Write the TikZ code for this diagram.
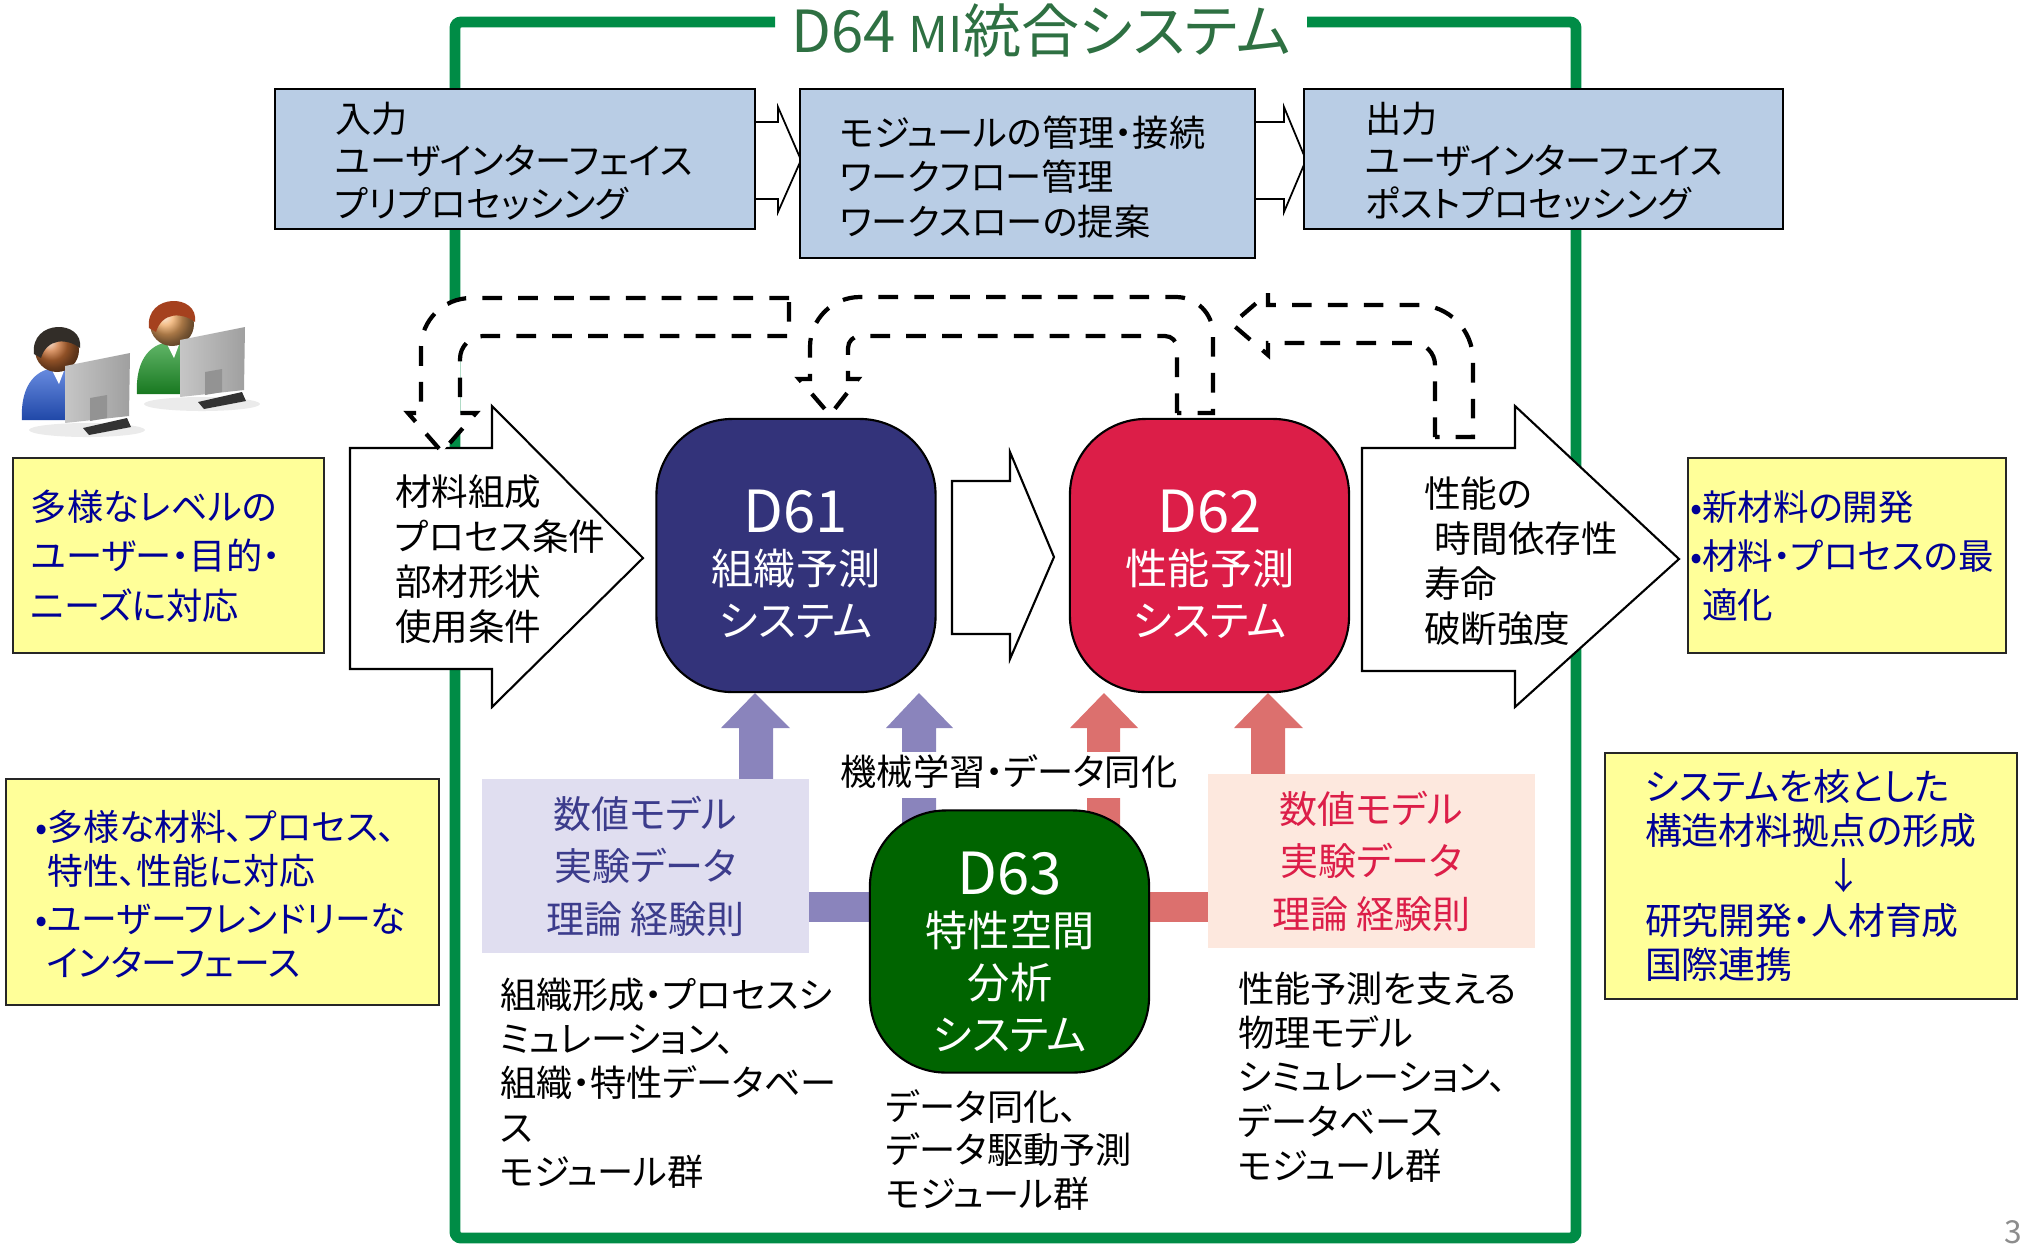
\documentclass[tikz,border=0pt]{standalone}
\usepackage{fontspec}
\setmainfont{Noto Sans CJK JP}[RawFeature=+palt]
\usetikzlibrary{backgrounds}

% Colours
\definecolor{framegreen}{RGB}{0,140,70}
\definecolor{titlegreen}{RGB}{46,112,66}
\definecolor{flowblue}{RGB}{185,205,229}
\definecolor{noteyellow}{RGB}{255,255,153}
\definecolor{noteblue}{RGB}{0,0,150}
\definecolor{mpblue}{RGB}{51,51,122}
\definecolor{mpred}{RGB}{220,30,72}
\definecolor{mpgreen}{RGB}{0,100,0}
\definecolor{lilac}{RGB}{138,132,188}
\definecolor{lilacbg}{RGB}{224,222,240}
\definecolor{lilactext}{RGB}{60,60,140}
\definecolor{salmon}{RGB}{220,112,110}
\definecolor{salmonbg}{RGB}{253,232,222}
\definecolor{manshirt}{RGB}{40,90,210}
\definecolor{manhair}{RGB}{50,45,40}
\definecolor{manskin}{RGB}{205,115,55}
\definecolor{womanshirt}{RGB}{30,150,40}
\definecolor{womanhair}{RGB}{165,65,30}
\definecolor{womanskin}{RGB}{240,170,100}

% one user behind a screen: #1 shift, #2 shirt, #3 hair, #4 face
\newcommand{\deskuser}[4]{%
  \begin{scope}[shift={#1}]
    \fill[black!8] (30,80) ellipse (58 and 7);
    \shade[top color=#2!70!white, bottom color=#2!80!black]
      (-35,70) .. controls (-37,34) and (-20,18) .. (0,18)
      .. controls (18,18) and (26,30) .. (26,46) -- (26,70) -- cycle;
    \fill[white] (-6,18) -- (8,18) -- (2,34) -- cycle;
    \shade[ball color=#4] (0,0) circle (22);
    \fill[#3] (-23,4) .. controls (-27,-31) and (27,-31) .. (23,-2)
      .. controls (10,-12) and (-10,-12) .. (-16,8) -- cycle;
    \shade[left color=gray!45, right color=gray!75]
      (8,16) -- (73,3) -- (72,66) -- (8,73) -- cycle;
    \fill[gray!85] (33,48) -- (50,45) -- (50,68) -- (33,71) -- cycle;
    \fill[gray!40!black] (26,78) -- (70,68) -- (74,77) -- (32,85) -- cycle;
  \end{scope}}

\begin{document}
\begin{tikzpicture}[
		x=0.01cm, y=-0.01cm,
		inner sep=0pt, outer sep=0pt,
		frameline/.style={line width=3.1pt, draw=framegreen, rounded corners=0.06cm},
		flowbox/.style={draw=black, line width=0.7pt, fill=flowblue},
		notebox/.style={draw=black!85, line width=0.7pt, fill=noteyellow},
		sysbox/.style={draw=black, line width=0.6pt, fill=#1,
			rounded corners=0.76cm, minimum width=2.79cm},
		hollow/.style={draw=black, line width=0.6pt, fill=white},
		loopback/.style={draw=black, line width=1.2pt,
			dash pattern=on 5.6pt off 4.6pt, fill=white},
		bodytext/.style={align=left, anchor=west,
			font=\fontsize{10.3}{12.6}\selectfont},
		notetext/.style={bodytext, text=noteblue},
		systext/.style={align=center, text=white,
			font=\fontsize{12}{14.8}\selectfont},
		modeltext/.style={align=center, font=\fontsize{10.8}{14.9}\selectfont},
	]
		\useasboundingbox (0,0) rectangle (2026,1244);

		% Frame of the integrated system
		\draw[frameline] (775,22) -| (455,1238) -| (1576,22) -- (1307,22);
		\node[text=titlegreen, font=\fontsize{16.5}{18}\selectfont] (title)
			at (1041,31) {D64 {\fontsize{14}{15}\selectfont MI}統合システム};

		% Workflow row
		\filldraw[hollow, line width=0.5pt] (750,122) -- (778,122) -- (778,107)
			-- (801,160) -- (778,212) -- (778,199) -- (750,199);
		\filldraw[hollow, line width=0.5pt] (1250,122) -- (1284,122) -- (1284,107)
			-- (1306,160) -- (1284,212) -- (1284,199) -- (1250,199);
		\node[flowbox, minimum width=4.8cm, minimum height=1.4cm] (inbox) at (515,159) {};
		\node[flowbox, minimum width=4.55cm, minimum height=1.69cm] (modbox) at (1027.5,173.5) {};
		\node[flowbox, minimum width=4.79cm, minimum height=1.4cm] (outbox) at (1543.5,159) {};
		\node[bodytext, font=\fontsize{10.3}{12.1}\selectfont] (intext) at (335,161)
			{入力\\ユーザインターフェイス\\プリプロセッシング};
		\node[bodytext, font=\fontsize{10.3}{12.7}\selectfont] (modtext) at (840,177)
			{モジュールの管理・接続\\ワークフロー管理\\ワークスローの提案};
		\node[bodytext, font=\fontsize{10.3}{12.1}\selectfont] (outtext) at (1365,161)
			{出力\\ユーザインターフェイス\\ポストプロセッシング};

		% Input / output arrows
		\filldraw[hollow] (350,448) -- (492,448) -- (492,406) -- (643,558)
			-- (492,707) -- (492,669) -- (350,669) -- cycle;
		\filldraw[hollow] (1362,448) -- (1515,448) -- (1515,406) -- (1679,559)
			-- (1515,707) -- (1515,671) -- (1362,671) -- cycle;
		\filldraw[hollow] (952,481) -- (1010,481) -- (1010,452) -- (1054,557)
			-- (1010,659) -- (1010,634) -- (952,634) -- cycle;
		\node[bodytext, font=\fontsize{10.4}{12.8}\selectfont] (condtext) at (395,559.5)
			{材料組成\\プロセス条件\\部材形状\\使用条件};
		\node[bodytext, font=\fontsize{10.4}{12.8}\selectfont] (perftext) at (1424,561)
			{性能の\\\hspace*{0.3em}時間依存性\\寿命\\破断強度};

		% Feedback loops
		\draw[loopback] (789,298) -- (471,298) arc[start angle=270, end angle=180, radius=50]
			-- (421,413) -- (408,413) -- (442,452) -- (476,413) -- (460,413)
			-- (460,359) arc[start angle=180, end angle=270, radius=23] -- (789,336) -- cycle;
		\draw[loopback] (1177,413) -- (1177,348) arc[start angle=0, end angle=-90, radius=12]
			-- (860,336) arc[start angle=270, end angle=180, radius=12]
			-- (848,379) -- (858,379) -- (830,415) -- (799,379) -- (810,379)
			-- (810,347) arc[start angle=180, end angle=270, radius=50]
			-- (1176,297) arc[start angle=270, end angle=360, radius=37] -- (1213,413) -- cycle;
		\draw[loopback] (1435,437) -- (1435,365) arc[start angle=0, end angle=-90, radius=22]
			-- (1268,343) -- (1268,355) -- (1232,324) -- (1268,293) -- (1268,305)
			-- (1418,305) arc[start angle=270, end angle=360, radius=55] -- (1473,437) -- cycle;

		% Upward feeds into D61 / D62
		\fill[lilac] (739,785) -- (739,728) -- (721,728) -- (755,693) -- (790,728)
			-- (773,728) -- (773,785) -- cycle;
		\fill[lilac] (902,830) -- (902,728) -- (886,728) -- (919,693) -- (953,728)
			-- (936,728) -- (936,830) -- cycle;
		\fill[salmon] (1087,830) -- (1087,728) -- (1070,728) -- (1104,693) -- (1138,728)
			-- (1120,728) -- (1120,830) -- cycle;
		\fill[salmon] (1251,780) -- (1251,728) -- (1234,728) -- (1268,693) -- (1303,728)
			-- (1285,728) -- (1285,780) -- cycle;

		% Models and data
		\node[modeltext, fill=lilacbg, text=lilactext, minimum width=3.27cm,
			minimum height=1.74cm] (pmodel) at (645.5,866) {数値モデル\\実験データ\\理論 経験則};
		\node[modeltext, fill=salmonbg, text=mpred, minimum width=3.27cm,
			minimum height=1.74cm] (rmodel) at (1371.5,861) {数値モデル\\実験データ\\理論 経験則};

		% Prediction systems
		\node[sysbox=mpblue, minimum height=2.73cm] (d61) at (796,555.5) {};
		\node[sysbox=mpred, minimum height=2.73cm] (d62) at (1209.5,555.5) {};
		\node[sysbox=mpgreen, minimum height=2.62cm] (d63) at (1009.5,941.5) {};
		\begin{pgfonlayer}{background}
			\fill[lilac] (pmodel.east |- 0,892) rectangle (d63.west |- 0,922);
			\fill[salmon] (d63.east |- 0,892) rectangle (rmodel.west |- 0,922);
		\end{pgfonlayer}
		\node[systext] (d61text) at (796,564)
			{{\fontsize{16.5}{14.8}\selectfont D61}\\組織予測\\システム};
		\node[systext] (d62text) at (1210,564)
			{{\fontsize{16.5}{14.8}\selectfont D62}\\性能予測\\システム};
		\node[systext] (d63text) at (1010,952)
			{{\fontsize{16.5}{14.8}\selectfont D63}\\特性空間\\分析\\システム};
		\node[fill=white, inner xsep=3pt, text height=9.3pt, text depth=3.6pt,
			font=\fontsize{10.3}{12}\selectfont] (mllabel) at (1009,775) {機械学習・データ同化};

		% Module groups
		\node[bodytext] (dbtext) at (500,1083)
			{組織形成・プロセスシ\\ミュレーション、\\組織・特性データベー\\ス\\モジュール群};
		\node[bodytext, font=\fontsize{10.3}{12.4}\selectfont] (dadtext) at (886,1150)
			{データ同化、\\データ駆動予測\\モジュール群};
		\node[bodytext] (phytext) at (1238,1077)
			{性能予測を支える\\物理モデル\\シミュレーション、\\データベース\\モジュール群};

		% Notes
		\node[notebox, minimum width=3.11cm, minimum height=1.95cm] (needs) at (168.5,555.5) {};
		\node[notetext, font=\fontsize{10.3}{14}\selectfont] (needstext) at (31,556)
			{多様なレベルの\\ユーザー・目的・\\ニーズに対応};
		\node[notebox, minimum width=4.33cm, minimum height=2.26cm] (uinote) at (222.5,892) {};
		\node[notetext, font=\fontsize{10.2}{12.4}\selectfont] (uinotetext) at (35,894)
			{•多様な材料、プロセス、\\\phantom{•}特性、性能に対応\\[1.4pt]%
			•ユーザーフレンドリーな\\\phantom{•}インターフェース};
		\node[notebox, minimum width=3.18cm, minimum height=1.95cm] (goals) at (1847,555.5) {};
		\node[notetext, font=\fontsize{10.1}{14}\selectfont] (goalstext) at (1690,556)
			{•新材料の開発\\•材料・プロセスの最\\\phantom{•}適化};
		\node[notebox, minimum width=4.12cm, minimum height=2.46cm] (hub) at (1811,876) {};
		\node[notetext, font=\fontsize{10.5}{12.7}\selectfont] (hubtext) at (1645,875.5)
			{システムを核とした\\構造材料拠点の形成\\\hspace*{4.9em}↓\\研究開発・人材育成\\国際連携};

		% Users
		\deskuser{(57,350)}{manshirt}{manhair}{manskin}
		\deskuser{(172,324)}{womanshirt}{womanhair}{womanskin}

		\node[text=black!45, font=\fontsize{9}{9}\selectfont] (pageno) at (2013,1232) {3};
	\end{tikzpicture}
\end{document}
